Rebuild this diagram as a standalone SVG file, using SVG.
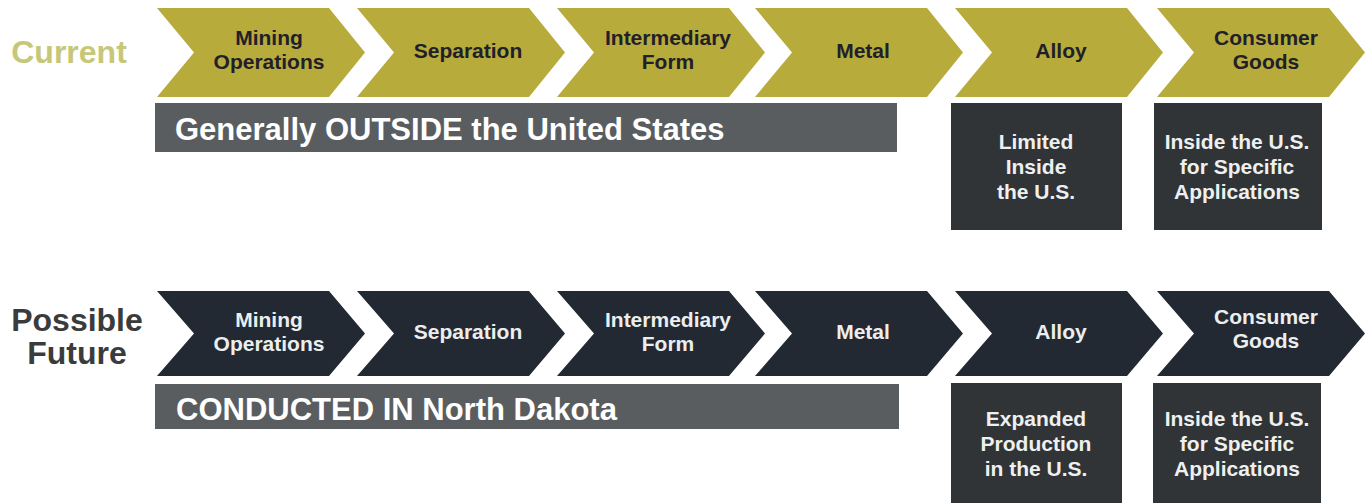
<svg xmlns="http://www.w3.org/2000/svg" width="1367" height="503" viewBox="0 0 1367 503">
  <defs>
    <!-- one chevron shape, 208 wide, 89 tall; rows reuse it with translate -->
    <path id="chev" d="M0,0 H172 L208,44.5 L172,89 H0 L37,44.5 Z"/>
    <path id="chevLow" d="M0,0 H172 L208,42.5 L172,85 H0 L37,42.5 Z"/>
  </defs>
  <style>
    .lbl { font-family: "Liberation Sans", Arial, sans-serif; font-weight: bold; text-anchor: middle; }
    .step { font-size: 21px; }
    .cur .shape { fill: #b7ab3b; }
    .cur .step { fill: #1f2029; }
    .fut .shape { fill: #222933; }
    .fut .step { fill: #eceeee; }
    .bar { fill: #5a5d5f; }
    .barText { font-family: "Liberation Sans", Arial, sans-serif; font-weight: bold; font-size: 31px; fill: #ffffff; }
    .box { fill: #303436; }
    .boxText { font-size: 21px; fill: #eef0f0; }
    .rowLabel { font-size: 32px; }
  </style>
  <rect width="1367" height="503" fill="#ffffff"/>

  <!-- row labels -->
  <g id="label-current">
    <text class="lbl rowLabel" x="69" y="63" fill="#c6c778">Current</text>
  </g>
  <g id="label-future">
    <text class="lbl rowLabel" x="77" y="331" fill="#3a3c3c">Possible</text>
    <text class="lbl rowLabel" x="77" y="364" fill="#3a3c3c">Future</text>
  </g>

  <!-- current supply chain -->
  <g class="cur">
    <g id="cur-mining" transform="translate(157,8)">
      <use href="#chev" class="shape"/>
      <text class="lbl step" x="112" y="37">Mining</text>
      <text class="lbl step" x="112" y="61">Operations</text>
    </g>
    <g id="cur-separation" transform="translate(357,8)">
      <use href="#chev" class="shape"/>
      <text class="lbl step" x="111" y="50">Separation</text>
    </g>
    <g id="cur-intermediary" transform="translate(557,8)">
      <use href="#chev" class="shape"/>
      <text class="lbl step" x="111" y="37">Intermediary</text>
      <text class="lbl step" x="111" y="61">Form</text>
    </g>
    <g id="cur-metal" transform="translate(755,8)">
      <use href="#chev" class="shape"/>
      <text class="lbl step" x="108" y="50">Metal</text>
    </g>
    <g id="cur-alloy" transform="translate(955,8)">
      <use href="#chev" class="shape"/>
      <text class="lbl step" x="106" y="50">Alloy</text>
    </g>
    <g id="cur-goods" transform="translate(1157,8)">
      <use href="#chev" class="shape"/>
      <text class="lbl step" x="109" y="37">Consumer</text>
      <text class="lbl step" x="109" y="61">Goods</text>
    </g>
  </g>

  <g id="cur-outside">
    <rect class="bar" x="155" y="103" width="742" height="49"/>
    <text class="barText" x="175" y="140">Generally OUTSIDE the United States</text>
  </g>
  <g id="cur-alloy-note">
    <rect class="box" x="951" y="103" width="171" height="127"/>
    <text class="lbl boxText" x="1036" y="149">Limited</text>
    <text class="lbl boxText" x="1036" y="174">Inside</text>
    <text class="lbl boxText" x="1036" y="199">the U.S.</text>
  </g>
  <g id="cur-goods-note">
    <rect class="box" x="1154" y="103" width="168" height="127"/>
    <text class="lbl boxText" x="1237" y="149">Inside the U.S.</text>
    <text class="lbl boxText" x="1237" y="174">for Specific</text>
    <text class="lbl boxText" x="1237" y="199">Applications</text>
  </g>

  <!-- possible future supply chain -->
  <g class="fut">
    <g id="fut-mining" transform="translate(157,291)">
      <use href="#chevLow" class="shape"/>
      <text class="lbl step" x="112" y="36">Mining</text>
      <text class="lbl step" x="112" y="60">Operations</text>
    </g>
    <g id="fut-separation" transform="translate(357,291)">
      <use href="#chevLow" class="shape"/>
      <text class="lbl step" x="111" y="48">Separation</text>
    </g>
    <g id="fut-intermediary" transform="translate(557,291)">
      <use href="#chevLow" class="shape"/>
      <text class="lbl step" x="111" y="36">Intermediary</text>
      <text class="lbl step" x="111" y="60">Form</text>
    </g>
    <g id="fut-metal" transform="translate(755,291)">
      <use href="#chevLow" class="shape"/>
      <text class="lbl step" x="108" y="48">Metal</text>
    </g>
    <g id="fut-alloy" transform="translate(955,291)">
      <use href="#chevLow" class="shape"/>
      <text class="lbl step" x="106" y="48">Alloy</text>
    </g>
    <g id="fut-goods" transform="translate(1157,291)">
      <use href="#chevLow" class="shape"/>
      <text class="lbl step" x="109" y="33">Consumer</text>
      <text class="lbl step" x="109" y="57">Goods</text>
    </g>
  </g>

  <g id="fut-north-dakota">
    <rect class="bar" x="155" y="384" width="744" height="45"/>
    <text class="barText" x="176" y="420">CONDUCTED IN North Dakota</text>
  </g>
  <g id="fut-alloy-note">
    <rect class="box" x="951" y="383" width="171" height="120"/>
    <text class="lbl boxText" x="1036" y="426">Expanded</text>
    <text class="lbl boxText" x="1036" y="451">Production</text>
    <text class="lbl boxText" x="1036" y="476">in the U.S.</text>
  </g>
  <g id="fut-goods-note">
    <rect class="box" x="1153" y="383" width="168" height="120"/>
    <text class="lbl boxText" x="1237" y="426">Inside the U.S.</text>
    <text class="lbl boxText" x="1237" y="451">for Specific</text>
    <text class="lbl boxText" x="1237" y="476">Applications</text>
  </g>
</svg>
